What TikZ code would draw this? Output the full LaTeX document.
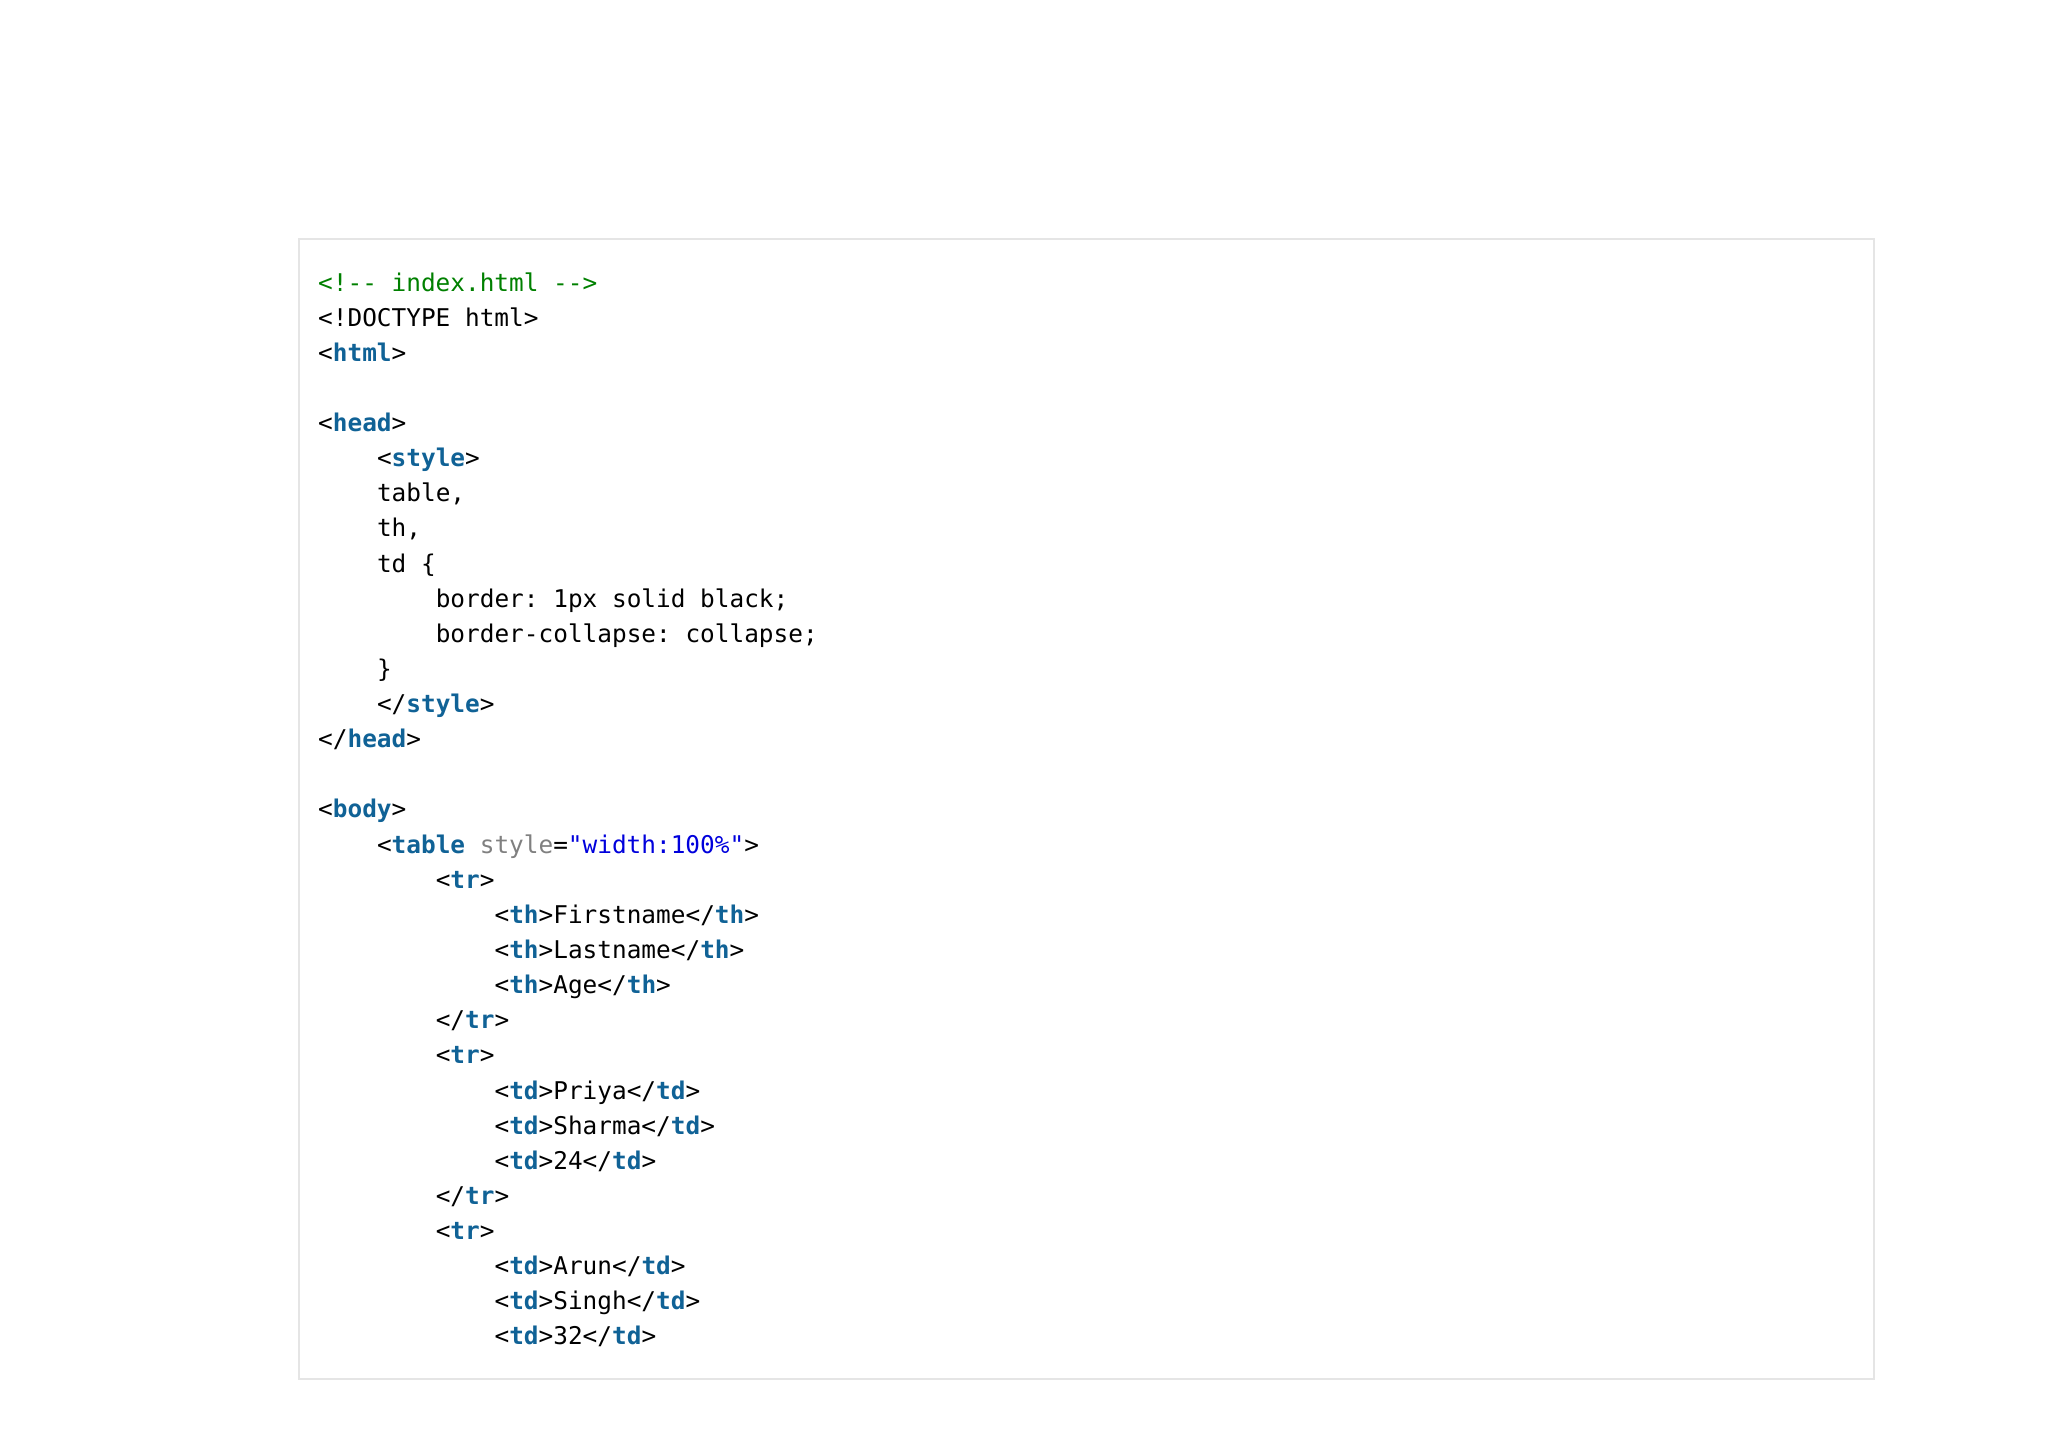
\documentclass[tikz,border=0pt]{standalone}
\usepackage{fontspec}
\setmonofont{DejaVu Sans Mono}
\definecolor{cgreen}{RGB}{0,128,0}
\definecolor{ctag}{RGB}{16,98,150}
\definecolor{cattr}{RGB}{128,128,128}
\definecolor{cstr}{RGB}{0,0,220}
\newcommand{\tg}[1]{\textcolor{ctag}{\bfseries #1}}
\begin{document}
\begin{tikzpicture}[x=1pt,y=-1pt,
  ln/.style={anchor=base west,inner sep=0pt,font=\ttfamily\fontsize{24.4}{28}\selectfont}]
\useasboundingbox (0,0) rectangle (2048,1448);
\draw[color=black!10,line width=1.5pt] (299,239) rectangle (1874,1379);
\def\L#1#2#3{\node[ln] (l#1) at ({318+58.8*#2},{291+35.13*#1}) {#3};}
\L{0}{0}{\textcolor{cgreen}{<!-- index.html -->}}
\L{1}{0}{<!DOCTYPE html>}
\L{2}{0}{<\tg{html}>}
\L{4}{0}{<\tg{head}>}
\L{5}{1}{<\tg{style}>}
\L{6}{1}{table,}
\L{7}{1}{th,}
\L{8}{1}{td \{}
\L{9}{2}{border: 1px solid black;}
\L{10}{2}{border-collapse: collapse;}
\L{11}{1}{\}}
\L{12}{1}{</\tg{style}>}
\L{13}{0}{</\tg{head}>}
\L{15}{0}{<\tg{body}>}
\L{16}{1}{<\tg{table} \textcolor{cattr}{style}=\textcolor{cstr}{"width:100\%"}>}
\L{17}{2}{<\tg{tr}>}
\L{18}{3}{<\tg{th}>Firstname</\tg{th}>}
\L{19}{3}{<\tg{th}>Lastname</\tg{th}>}
\L{20}{3}{<\tg{th}>Age</\tg{th}>}
\L{21}{2}{</\tg{tr}>}
\L{22}{2}{<\tg{tr}>}
\L{23}{3}{<\tg{td}>Priya</\tg{td}>}
\L{24}{3}{<\tg{td}>Sharma</\tg{td}>}
\L{25}{3}{<\tg{td}>24</\tg{td}>}
\L{26}{2}{</\tg{tr}>}
\L{27}{2}{<\tg{tr}>}
\L{28}{3}{<\tg{td}>Arun</\tg{td}>}
\L{29}{3}{<\tg{td}>Singh</\tg{td}>}
\L{30}{3}{<\tg{td}>32</\tg{td}>}
\end{tikzpicture}
\end{document}
